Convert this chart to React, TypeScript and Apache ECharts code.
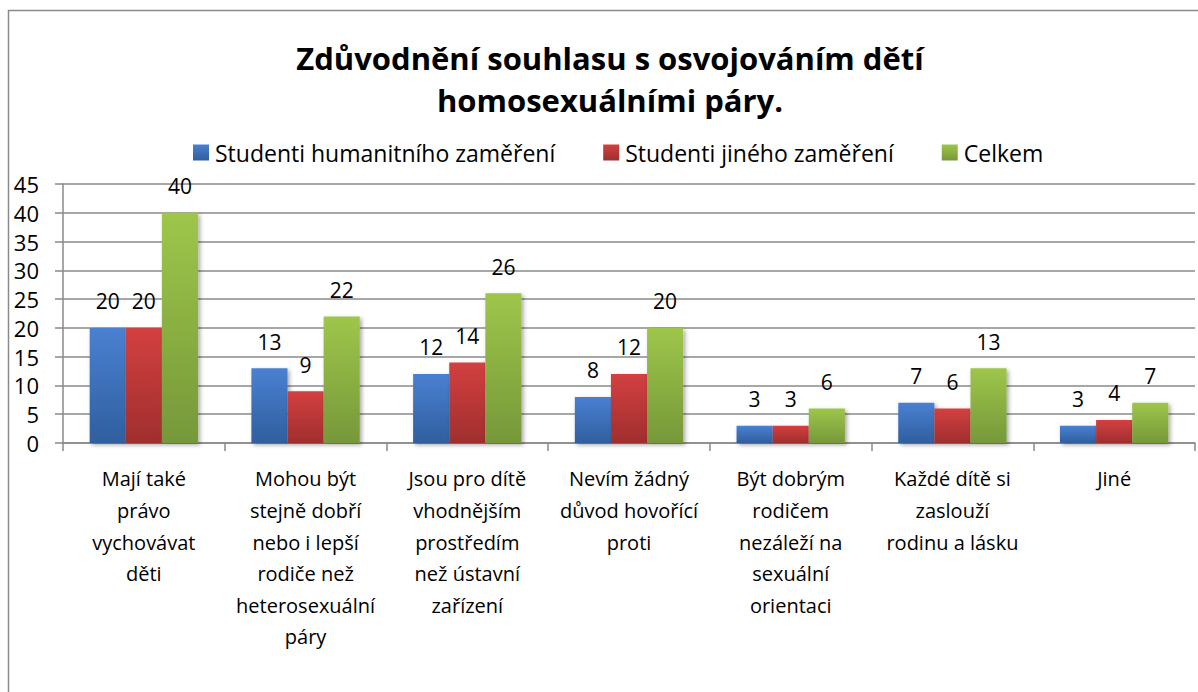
import React, { useEffect, useRef } from "react";
import * as echarts from "echarts";

const categories = [
  "Mají také\nprávo\nvychovávat\nděti",
  "Mohou být\nstejně dobří\nnebo i lepší\nrodiče než\nheterosexuální\npáry",
  "Jsou pro dítě\nvhodnějším\nprostředím\nnež ústavní\nzařízení",
  "Nevím žádný\ndůvod hovořící\nproti",
  "Být dobrým\nrodičem\nnezáleží na\nsexuální\norientaci",
  "Každé dítě si\nzaslouží\nrodinu a lásku",
  "Jiné",
];
const seriesNames = ["Studenti humanitního zaměření", "Studenti jiného zaměření", "Celkem"];
const humanitni = [20, 13, 12, 8, 3, 7, 3];
const jine = [20, 9, 14, 12, 3, 6, 4];
const celkem = [40, 22, 26, 20, 6, 13, 7];
const titleText = "Zdůvodnění souhlasu s osvojováním dětí\nhomosexuálními páry.";

const FONT = "'Open Sans', sans-serif";

const grad = (top: string, bottom: string) =>
  new echarts.graphic.LinearGradient(0, 0, 0, 1, [
    { offset: 0, color: top },
    { offset: 1, color: bottom },
  ]);

export default function App() {
  const ref = useRef<HTMLDivElement>(null);
  useEffect(() => {
    if (!ref.current) return;
    const chart = echarts.init(ref.current, undefined, { renderer: "svg" });
    const colors = [
      ["#4a80d2", "#2f5f9e"],
      ["#d34040", "#a02e2e"],
      ["#9ec64a", "#76983a"],
    ];
    const datas = [humanitni, jine, celkem];
    chart.setOption({
      animation: false,
      backgroundColor: "#ffffff",
      textStyle: { fontFamily: FONT },
      title: {
        text: titleText,
        left: 605,
        textAlign: "center",
        top: 32,
        textStyle: {
          fontFamily: FONT,
          fontSize: 31,
          fontWeight: "bold",
          color: "#000",
          lineHeight: 42,
        },
      },
      legend: {
        top: 136,
        left: 188,
        itemWidth: 16,
        itemHeight: 16,
        itemGap: 48,
        icon: "rect",
        textStyle: { fontFamily: FONT, fontSize: 23, color: "#000", padding: [0, 0, 0, 1] },
        data: seriesNames,
      },
      graphic: [
        {
          type: "rect",
          shape: { x: 8.5, y: 10.5, width: 1200, height: 700 },
          style: { fill: "none", stroke: "#8a8a8a", lineWidth: 1.5 },
          silent: true,
          z: 100,
        },
      ],
      grid: { left: 63, right: 3, top: 184, bottom: 249, containLabel: false },
      xAxis: {
        type: "category",
        data: categories,
        axisLine: { show: true, lineStyle: { color: "#8a8a8a", width: 1.5 } },
        axisTick: { show: true, length: 8, lineStyle: { color: "#8a8a8a", width: 1.5 } },
        axisLabel: {
          interval: 0,
          margin: 20,
          fontFamily: FONT,
          fontSize: 20,
          color: "#000",
          lineHeight: 31.6,
        },
      },
      yAxis: {
        type: "value",
        min: 0,
        max: 45,
        interval: 5,
        axisLine: { show: true, lineStyle: { color: "#8a8a8a", width: 1.5 } },
        axisTick: { show: true, length: 8, lineStyle: { color: "#8a8a8a", width: 1.5 } },
        splitLine: { show: true, lineStyle: { color: "#8a8a8a", width: 1.5 } },
        axisLabel: { margin: 24, fontFamily: FONT, fontSize: 22, color: "#000" },
      },
      series: seriesNames.map((name, i) => ({
        name,
        type: "bar",
        data: datas[i],
        barGap: "0%",
        barCategoryGap: "33%",
        itemStyle: {
          color: grad(colors[i][0], colors[i][1]),
          shadowBlur: 4,
          shadowColor: "rgba(0,0,0,0.35)",
          shadowOffsetX: 2,
          shadowOffsetY: 2,
        },
        label: {
          show: true,
          position: "top",
          distance: 16,
          fontFamily: FONT,
          fontSize: 21,
          color: "#000",
        },
      })),
    });
    return () => chart.dispose();
  }, []);
  return (
    <div
      ref={ref}
      style={{ position: "absolute", left: 0, top: 0, width: 1198, height: 692 }}
    />
  );
}
